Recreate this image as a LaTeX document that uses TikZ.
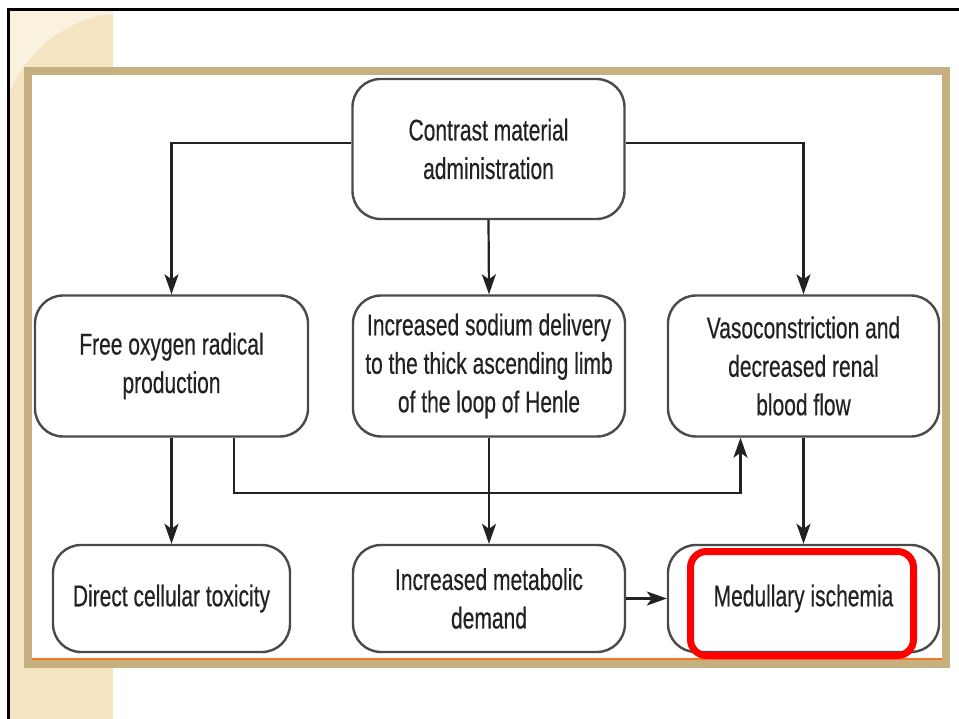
\documentclass[tikz,border=0pt]{standalone}
\usepackage{fontspec}
\usetikzlibrary{arrows.meta}
\newfontfamily\cf[FakeStretch=0.7,FakeBold=0.4]{Liberation Sans}
\definecolor{beigebg}{HTML}{F4E4C1}
\definecolor{beigelt}{HTML}{FAF2DF}
\definecolor{tanframe}{HTML}{C6B07F}
\definecolor{boxline}{HTML}{4A4A4A}
\definecolor{txt}{HTML}{222222}
\definecolor{orng}{HTML}{F07820}
\tikzset{
  flowbox/.style={draw=boxline, line width=2.4pt, rounded corners=28pt, fill=white,
    align=center, inner sep=0pt, text=txt, font=\cf\fontsize{30}{38.5}\selectfont},
  arr/.style={draw=txt, line width=2.2pt, -{Stealth[length=20pt,width=14pt,inset=5pt]}},
  redhl/.style={draw=red, line width=7pt, rounded corners=16pt, inner sep=0pt}
}
\begin{document}
\begin{tikzpicture}[x=1pt,y=-1pt]
\useasboundingbox (0,0) rectangle (959,719);
\fill[white] (0,0) rectangle (959,719);
% left decorative strip
\fill[beigebg] (10,11) rectangle (113,719);
\begin{scope}
  \clip (10,11) rectangle (113,95);
  \fill[beigelt] (10,11) rectangle (113,95);
  \fill[beigebg] (128,140) circle (128);
  \draw[beigelt, line width=1.5pt] (128,140) circle (128);
  \draw[beigelt!60!beigebg, line width=1pt] (10,140) arc[start angle=180, end angle=110, radius=150];
\end{scope}
% black border
\draw[line width=3pt] (8.5,719) -- (8.5,9.5) -- (959,9.5);
% tan frame
\draw[tanframe, line width=8pt, fill=white] (28,71) rectangle (946,664);
\draw[orng, line width=1.5pt] (32,659) -- (942,659);
% nodes
\node[flowbox, minimum width=272pt, minimum height=140pt] (top) at (488.5,149) {Contrast material\\administration};
\node[flowbox, minimum width=273pt, minimum height=141pt] (fo) at (171.5,366) {Free oxygen radical\\production};
\node[flowbox, minimum width=272pt, minimum height=141pt] (sd) at (489,366) {Increased sodium delivery\\to the thick ascending limb\\of the loop of Henle};
\node[flowbox, minimum width=271pt, minimum height=141pt] (vc) at (803.5,366) {Vasoconstriction and\\decreased renal\\blood flow};
\node[flowbox, minimum width=237pt, minimum height=107pt] (dc) at (171.5,598.5) {Direct cellular toxicity};
\node[flowbox, minimum width=272pt, minimum height=107pt] (md) at (489,598.5) {Increased metabolic\\demand};
\node[flowbox, minimum width=271pt, minimum height=107pt] (mi) at (803.5,598.5) {Medullary ischemia};
% connectors
\draw[arr] ([yshift=6pt]top.west) -| (fo.north);
\draw[arr] ([yshift=6pt]top.east) -| (vc.north);
\draw[arr] (top.south) -- (sd.north);
\draw[arr] (fo.south) -- (dc.north);
\draw[arr] ([xshift=62.5pt]fo.south) -- ++(0,55) -| ([xshift=-63pt]vc.south);
\draw[arr] (sd.south) -- (md.north);
\draw[arr] (vc.south) -- (mi.north);
\draw[arr] (md.east) -- (mi.west);
% red highlight
\node[redhl, minimum width=223pt, minimum height=104pt] (hl) at (802,603.5) {};
\end{tikzpicture}
\end{document}
